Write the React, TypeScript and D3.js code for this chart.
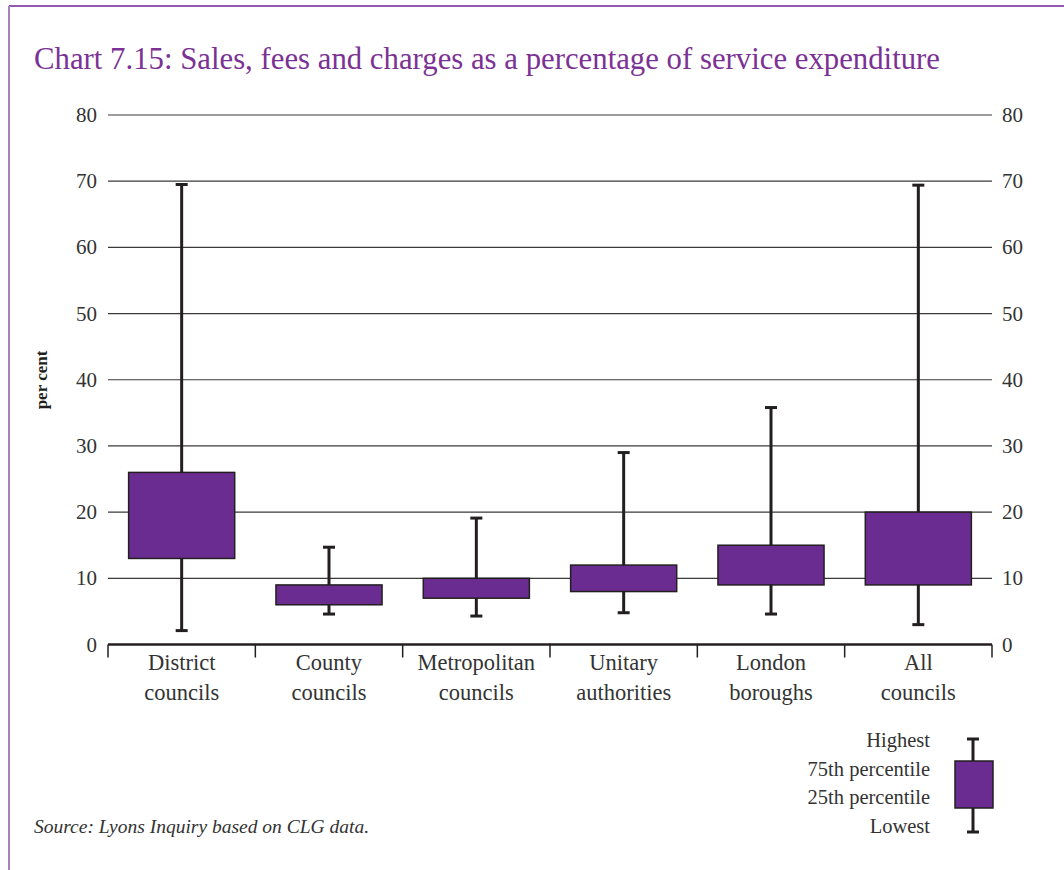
import React from "react";
import * as d3 from "d3";

const categories: string[][] = [
  ["District", "councils"],
  ["County", "councils"],
  ["Metropolitan", "councils"],
  ["Unitary", "authorities"],
  ["London", "boroughs"],
  ["All", "councils"],
];
const highest = [69.5, 14.7, 19.1, 29.0, 35.8, 69.4];
const q75 = [26.0, 9.0, 10.0, 12.0, 15.0, 20.0];
const q25 = [13.0, 6.0, 7.0, 8.0, 9.0, 9.0];
const lowest = [2.1, 4.6, 4.3, 4.8, 4.6, 3.0];
const yTicks = [0, 10, 20, 30, 40, 50, 60, 70, 80];
const legendLabels = ["Highest", "75th percentile", "25th percentile", "Lowest"];

const W = 1064;
const H = 870;
const FONT = "'Liberation Serif', 'DejaVu Serif', serif";
const PURPLE = "#6a2c91";
const TITLE = "#7b3294";
const INK = "#231f20";

export default function App() {
  const left = 108;
  const right = 992;
  const y = d3.scaleLinear().domain([0, 80]).range([644.5, 115]);
  const x = d3
    .scaleBand<number>()
    .domain(categories.map((_, i) => i))
    .range([left, right])
    .paddingInner(0)
    .paddingOuter(0);
  const bw = x.bandwidth() * 0.72;
  const cap = 12;

  const ly = d3.scaleLinear().domain([0, 3]).range([739, 832]);
  const lx = 973;

  return (
    <svg
      width={W}
      height={H}
      style={{ position: "absolute", left: 0, top: 0, background: "#fff" }}
      fontFamily={FONT}
    >
      <rect x={0} y={0} width={W} height={H} fill="#fff" />
      <line x1={9} x2={W} y1={6} y2={6} stroke="#8e5bb0" strokeWidth={2} />
      <line x1={9} x2={9} y1={6} y2={H} stroke="#a780c4" strokeWidth={2} />

      <text x={34} y={69} fill={TITLE} fontSize={31} textLength={906} lengthAdjust="spacingAndGlyphs">
        Chart 7.15: Sales, fees and charges as a percentage of service expenditure
      </text>

      {yTicks.filter((t) => t > 0).map((t) => (
        <line key={t} x1={left} x2={right} y1={y(t)} y2={y(t)} stroke="#3a3a3a" strokeWidth={1.2} />
      ))}
      {yTicks.map((t) => (
        <g key={"l" + t}>
          <text x={97} y={y(t) + 7} textAnchor="end" fontSize={21} fill="#333">
            {t}
          </text>
          <text x={1002} y={y(t) + 7} textAnchor="start" fontSize={21} fill="#333">
            {t}
          </text>
        </g>
      ))}

      <text
        transform={`translate(47,380) rotate(-90)`}
        textAnchor="middle"
        fontSize={17}
        fontWeight="bold"
        fill={INK}
      >
        per cent
      </text>

      {categories.map((_, i) => {
        const cx = (x(i) as number) + x.bandwidth() / 2;
        return (
          <g key={"b" + i}>
            <line x1={cx} x2={cx} y1={y(highest[i])} y2={y(lowest[i])} stroke={INK} strokeWidth={3} />
            <line x1={cx - cap / 2} x2={cx + cap / 2} y1={y(highest[i])} y2={y(highest[i])} stroke={INK} strokeWidth={3} />
            <line x1={cx - cap / 2} x2={cx + cap / 2} y1={y(lowest[i])} y2={y(lowest[i])} stroke={INK} strokeWidth={3} />
            <rect
              x={cx - bw / 2}
              y={y(q75[i])}
              width={bw}
              height={y(q25[i]) - y(q75[i])}
              fill={PURPLE}
              stroke={INK}
              strokeWidth={1.5}
            />
          </g>
        );
      })}

      <line x1={left} x2={right} y1={y(0)} y2={y(0)} stroke={INK} strokeWidth={2.5} />
      {d3.range(categories.length + 1).map((i) => {
        const xx = i < categories.length ? (x(i) as number) : right;
        return <line key={"t" + i} x1={xx} x2={xx} y1={y(0)} y2={y(0) + 13} stroke={INK} strokeWidth={1.5} />;
      })}
      {categories.map((c, i) => {
        const cx = (x(i) as number) + x.bandwidth() / 2;
        return (
          <text key={"c" + i} x={cx} textAnchor="middle" fontSize={22.5} fill="#333">
            <tspan x={cx} y={670}>{c[0]}</tspan>
            <tspan x={cx} y={700}>{c[1]}</tspan>
          </text>
        );
      })}

      <line x1={lx} x2={lx} y1={ly(0)} y2={ly(3)} stroke={INK} strokeWidth={3} />
      <line x1={lx - 6} x2={lx + 6} y1={ly(0)} y2={ly(0)} stroke={INK} strokeWidth={3} />
      <line x1={lx - 6} x2={lx + 6} y1={ly(3)} y2={ly(3)} stroke={INK} strokeWidth={3} />
      <rect x={955} y={761} width={38} height={47} fill={PURPLE} stroke={INK} strokeWidth={1.5} />
      {legendLabels.map((l, i) => (
        <text key={l} x={930} y={[747, 776, 804, 833][i]} textAnchor="end" fontSize={20.5} fill="#333">
          {l}
        </text>
      ))}

      <text x={34} y={833} fontSize={19.5} fontStyle="italic" fill="#333">
        Source: Lyons Inquiry based on CLG data.
      </text>
    </svg>
  );
}
